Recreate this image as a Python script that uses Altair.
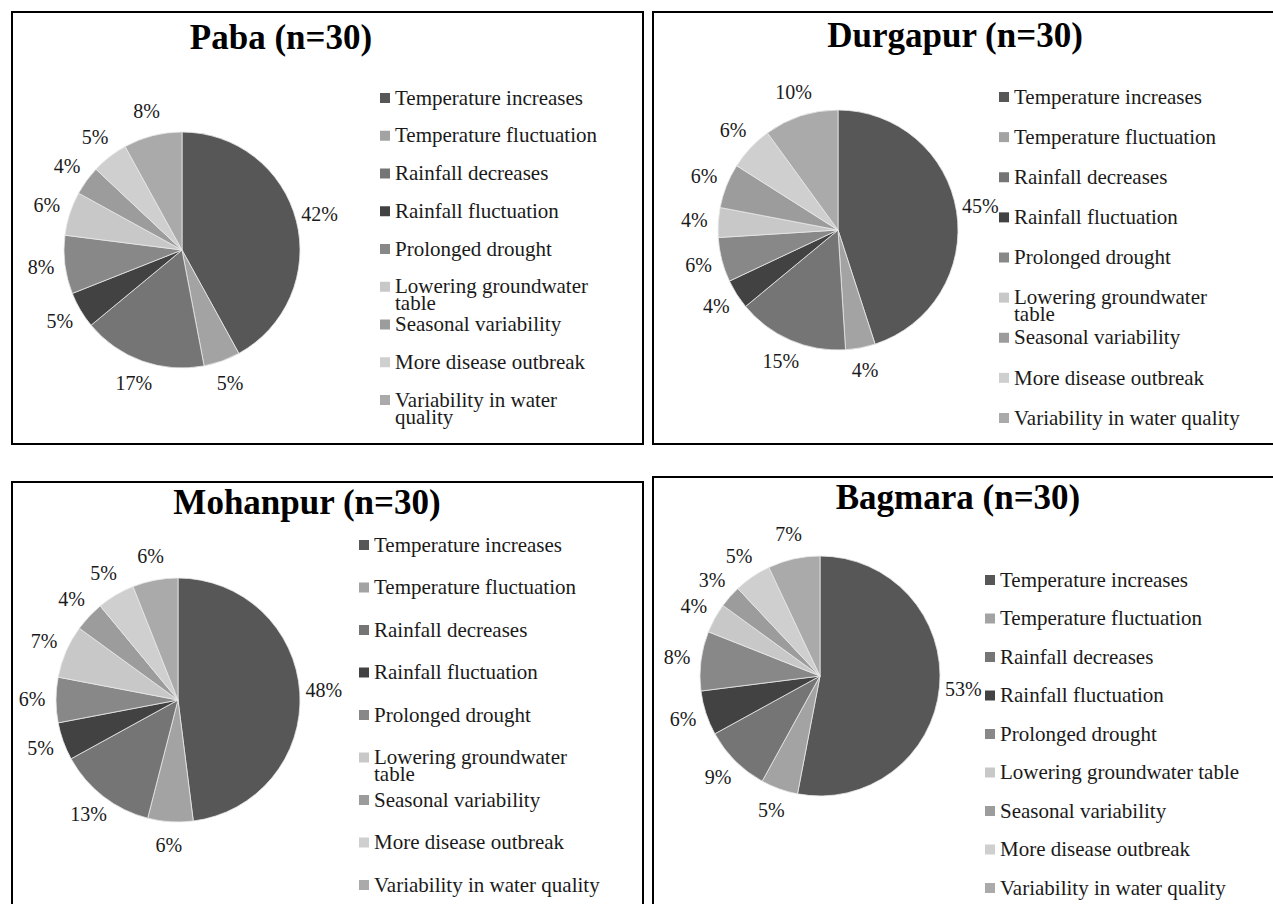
import altair as alt
import pandas as pd

# ---------------- data ----------------
categories = [
    "Temperature increases",
    "Temperature fluctuation",
    "Rainfall decreases",
    "Rainfall fluctuation",
    "Prolonged drought",
    "Lowering groundwater table",
    "Seasonal variability",
    "More disease outbreak",
    "Variability in water quality",
]
colors = ["#575757", "#a3a3a3", "#757575", "#424242", "#888888",
          "#c8c8c8", "#9c9c9c", "#cfcfcf", "#aaaaaa"]

paba_values = [42, 5, 17, 5, 8, 6, 4, 5, 8]
durgapur_values = [45, 4, 15, 4, 6, 4, 6, 6, 10]
mohanpur_values = [48, 6, 13, 5, 6, 7, 4, 5, 6]
bagmara_values = [53, 5, 9, 6, 8, 4, 3, 5, 7]

titles = ["Paba (n=30)", "Durgapur (n=30)", "Mohanpur (n=30)", "Bagmara (n=30)"]

paba_legend = ["Temperature increases", "Temperature fluctuation", "Rainfall decreases",
               "Rainfall fluctuation", "Prolonged drought", "Lowering groundwater\ntable",
               "Seasonal variability", "More disease outbreak", "Variability in water\nquality"]
durgapur_legend = ["Temperature increases", "Temperature fluctuation", "Rainfall decreases",
                   "Rainfall fluctuation", "Prolonged drought", "Lowering groundwater\ntable",
                   "Seasonal variability", "More disease outbreak", "Variability in water quality"]
mohanpur_legend = durgapur_legend
bagmara_legend = categories

FONT = "Liberation Serif"
LEG_FS = 21
PCT_FS = 20


def panel(values, legend_labels, title, W, H, cx, cy, r, lx, ly0, ly1, tx, ty,
          top=1, open_right=False, open_bottom=False):
    df = pd.DataFrame({
        "category": categories,
        "value": values,
        "idx": list(range(len(categories))),
        "pct": [f"{v}%" for v in values],
        "legend_label": legend_labels,
    })
    base = alt.Chart(df)
    color = alt.Color("category:N", scale=alt.Scale(domain=categories, range=colors), legend=None)
    theta = alt.Theta("value:Q", stack=True)
    order = alt.Order("idx:Q")

    arcs = base.mark_arc(outerRadius=r, stroke="#e8e8e8", strokeWidth=0.8).encode(
        theta=theta, color=color, order=order, x=alt.value(cx), y=alt.value(cy)
    )
    pct = base.mark_text(radius=r + 24, font=FONT, fontSize=PCT_FS, color="#1a1a1a").encode(
        theta=theta, order=order, text="pct:N", x=alt.value(cx), y=alt.value(cy)
    )

    leg_y = alt.Y("category:N", axis=None,
                  scale=alt.Scale(type="point", domain=categories, range=[ly0, ly1], padding=0))
    squares = base.mark_square(size=100, opacity=1).encode(
        x=alt.value(lx), y=leg_y, color=color
    )
    leg_text = base.mark_text(align="left", baseline="top", dy=-0.49 * LEG_FS, font=FONT,
                              fontSize=LEG_FS, lineBreak="\n", lineHeight=17,
                              color="#1a1a1a").encode(
        x=alt.value(lx + 10), y=leg_y, text="legend_label:N"
    )

    ttl = alt.Chart(pd.DataFrame({"t": [title]})).mark_text(
        font=FONT, fontSize=35, fontWeight="bold", align="center", baseline="alphabetic",
        color="black"
    ).encode(text="t:N", x=alt.value(tx), y=alt.value(ty))

    border = alt.Chart(pd.DataFrame({"b": [0]})).mark_rect(
        fillOpacity=0, stroke="black", strokeWidth=2, clip=True
    ).encode(x=alt.value(1), x2=alt.value(W + 20 if open_right else W - 1),
             y=alt.value(top), y2=alt.value(H + 20 if open_bottom else H - 1))

    return alt.layer(border, arcs, pct, squares, leg_text, ttl).properties(width=W, height=H)


p1 = panel(paba_values, paba_legend, titles[0], 633, 434,
           cx=171, cy=239, r=118, lx=374, ly0=87, ly1=389, tx=270, ty=38)
p2 = panel(durgapur_values, durgapur_legend, titles[1], 621, 434,
           cx=186, cy=219, r=120, lx=352, ly0=86, ly1=407, tx=303, ty=36,
           open_right=True)
p3 = panel(mohanpur_values, mohanpur_legend, titles[2], 633, 428,
           cx=167, cy=224, r=122, lx=353, ly0=69, ly1=409, tx=296, ty=38,
           top=6, open_bottom=True)
p4 = panel(bagmara_values, bagmara_legend, titles[3], 621, 428,
           cx=168, cy=200, r=120, lx=338, ly0=104, ly1=412, tx=306, ty=33,
           open_right=True, open_bottom=True)

chart = alt.vconcat(
    alt.hconcat(p1, p2, spacing=8),
    alt.hconcat(p3, p4, spacing=8),
    spacing=31,
).properties(
    padding={"left": 11, "top": 11, "right": 0, "bottom": 0}
).configure_view(stroke=None)

chart.save("out.html", embed_options={"renderer": "svg", "actions": False})
